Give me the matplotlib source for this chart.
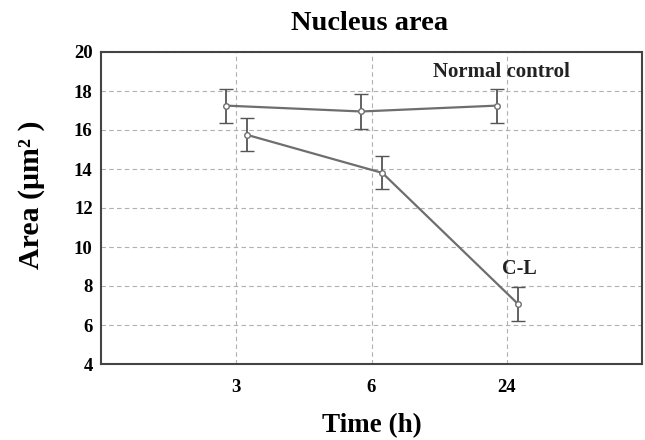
import numpy as np
import matplotlib
matplotlib.use("Agg")
import matplotlib.pyplot as plt

# Data
time_labels = ["3", "6", "24"]
control_mean = [17.25, 16.95, 17.25]
control_err = [0.87, 0.9, 0.87]
cl_mean = [15.75, 13.8, 7.1]
cl_err = [0.85, 0.85, 0.87]

plt.rcParams["font.family"] = ["Liberation Serif", "DejaVu Serif"]
plt.rcParams["font.weight"] = "bold"

x = np.arange(1, len(time_labels) + 1)

fig = plt.figure(figsize=(6.45, 4.4), dpi=100)
ax = fig.add_axes([101 / 645, 76 / 440, 541 / 645, 312 / 440])

line_color = "#6e6e6e"

ax.errorbar(
    x - 0.075, control_mean, yerr=control_err,
    color=line_color, lw=1.6, marker="o", ms=4,
    mfc="white", mec=line_color, mew=1.0,
    ecolor="#555555", elinewidth=1.3, capsize=5, capthick=1.3
)
ax.errorbar(
    x + 0.08, cl_mean, yerr=cl_err,
    color=line_color, lw=1.6, marker="o", ms=4,
    mfc="white", mec=line_color, mew=1.0,
    ecolor="#555555", elinewidth=1.3, capsize=5, capthick=1.3
)

ax.text(2.455, 18.95, "Normal control", ha="left", va="center",
        fontsize=15, fontweight="bold", color="#222222")
ax.text(3.09, 8.85, "C-L", ha="center", va="center",
        fontsize=14.5, fontweight="bold", color="#222222")

ax.set_xlim(0, 4)
ax.set_ylim(4, 20)
ax.set_xticks(x)
ax.set_xticklabels(time_labels)
ax.set_yticks(np.arange(4, 21, 2))

ax.grid(True, color="#b0b0b0", linestyle=(0, (4, 3)), linewidth=0.8)
ax.set_axisbelow(True)
ax.tick_params(length=0, labelsize=13.5)
ax.tick_params(axis="x", pad=11)
ax.tick_params(axis="y", pad=6)
for lab in ax.get_xticklabels() + ax.get_yticklabels():
    lab.set_fontweight("bold")

for side in ["left", "bottom", "top", "right"]:
    ax.spines[side].set_color("#444444")
    ax.spines[side].set_linewidth(1.5)

fig.text(370 / 645, 1 - 23 / 440, "Nucleus area", ha="center", va="center",
         fontsize=20.5, fontweight="bold")
fig.text(372 / 645, 1 - 426 / 440, "Time (h)", ha="center", va="center",
         fontsize=19.5, fontweight="bold")
fig.text(32 / 645, 1 - 195 / 440, "Area (μm² )", ha="center", va="center",
         rotation=90, fontsize=21.5, fontweight="bold")

plt.savefig("out.png", dpi=100)
